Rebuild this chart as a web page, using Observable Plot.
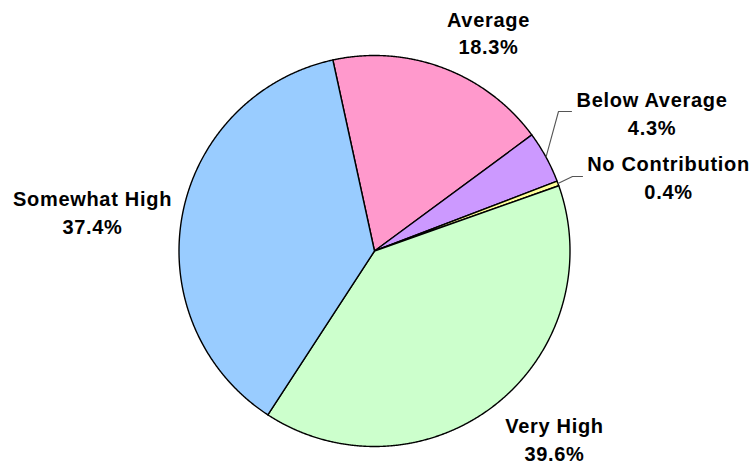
<!DOCTYPE html>
<html>
<head>
<meta charset="utf-8">
<script src="https://cdn.jsdelivr.net/npm/d3@7"></script>
<script src="https://cdn.jsdelivr.net/npm/@observablehq/plot@0.6"></script>
<style>
  html, body { margin: 0; padding: 0; background: #ffffff; }
  #chart { width: 753px; height: 464px; }
</style>
</head>
<body>
<div id="chart"></div>
<script>
// ---- data ----
const categories = ["Average", "Below Average", "No Contribution", "Very High", "Somewhat High"];
const percents = [18.3, 4.3, 0.4, 39.6, 37.4];
const sliceColors = ["#FF99CC", "#CC99FF", "#FFFF99", "#CCFFCC", "#99CCFF"];

// ---- layout (pixels) ----
const W = 753, H = 464;
const cx = 374, cy = 250.5, R = 195.5;
const firstSliceAngleDeg = -12.3;
// label block centres (pixel coordinates)
const labelCenters = {
  "Average": [488, 31.3],
  "Below Average": [651.5, 111.5],
  "No Contribution": [668, 175.8],
  "Somewhat High": [92, 210.5],
  "Very High": [554, 437.5]
};
// leader line elbow and end (pixel coordinates)
const leaders = {
  "Below Average": [[558, 111], [571, 111]],
  "No Contribution": [[572, 176], [582, 176]]
};

const toX = px => (px - cx) / R;
const toY = py => (cy - py) / R;

const start = firstSliceAngleDeg * Math.PI / 180;
const arcs = d3.pie().sort(null).value(d => d)
  .startAngle(start).endAngle(start + 2 * Math.PI)(percents);

const slices = arcs.map((a, i) => {
  const pts = [{x: 0, y: 0}];
  const n = Math.max(2, Math.ceil((a.endAngle - a.startAngle) / (Math.PI / 720)));
  for (let k = 0; k <= n; k++) {
    const t = a.startAngle + (a.endAngle - a.startAngle) * k / n;
    pts.push({x: Math.sin(t), y: Math.cos(t)});
  }
  pts.push({x: 0, y: 0});
  return {name: categories[i], color: sliceColors[i], pts, mid: (a.startAngle + a.endAngle) / 2};
});

const labelData = categories.map((c, i) => ({
  x: toX(labelCenters[c][0]),
  y: toY(labelCenters[c][1]),
  text: c + "\n" + percents[i].toFixed(1) + "%"
}));

const leaderMarks = slices.filter(s => leaders[s.name]).map(s => {
  const pts = [{x: Math.sin(s.mid), y: Math.cos(s.mid)}]
    .concat(leaders[s.name].map(p => ({x: toX(p[0]), y: toY(p[1])})));
  return Plot.line(pts, {x: "x", y: "y", stroke: "#555555", strokeWidth: 1.1});
});

const sliceMarks = slices.map(s =>
  Plot.line(s.pts, {x: "x", y: "y", fill: s.color, stroke: "#000000",
    strokeWidth: 1.4, strokeLinejoin: "round", curve: "linear"}));

const chart = Plot.plot({
  width: W,
  height: H,
  margin: 0,
  style: {fontFamily: "'Liberation Sans', Arial, sans-serif", letterSpacing: "0.7px", background: "#ffffff"},
  x: {type: "linear", domain: [-1, 1], range: [cx - R, cx + R], axis: null},
  y: {type: "linear", domain: [-1, 1], range: [cy + R, cy - R], axis: null},
  marks: [
    ...sliceMarks,
    ...leaderMarks,
    Plot.text(labelData, {
      x: "x", y: "y", text: "text",
      fontSize: 20, fontWeight: "bold", fill: "#000000",
      textAnchor: "middle", lineAnchor: "middle", lineHeight: 1.375
    })
  ]
});
document.getElementById("chart").appendChild(chart);
</script>
</body>
</html>
